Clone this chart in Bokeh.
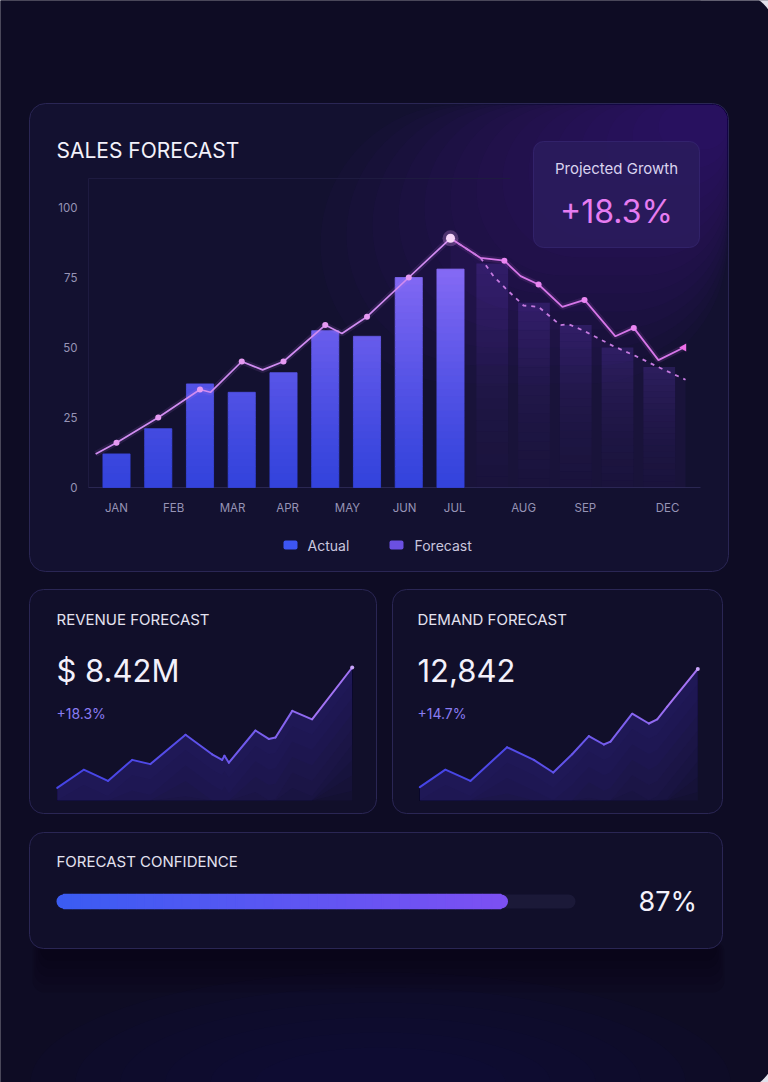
import numpy as np
from bokeh.plotting import figure
from bokeh.models import Range1d, ColumnDataSource
from bokeh.core.properties import value
from bokeh.embed import file_html
from bokeh.resources import INLINE

# ---------------- data ----------------
y_tick_values = [0, 25, 50, 75, 100]
y_tick_labels = ["0", "25", "50", "75", "100"]
x_tick_labels = ["JAN", "FEB", "MAR", "APR", "MAY", "JUN", "JUL", "AUG", "SEP", "DEC"]
x_tick_pos = [0, 1.37, 2.78, 4.1, 5.53, 6.9, 8.1, 9.75, 11.23, 13.2]

actual_idx = [0, 1, 2, 3, 4, 5, 6, 7, 8]
actual_vals = [12, 21, 37, 34, 41, 56, 54, 75, 78]

trend_x = [-0.5, 0, 1, 2, 2.25, 3, 3.5, 4, 5, 5.4, 6, 7, 8]
trend_vals = [12, 16, 25, 35, 34, 45, 42, 45, 58, 55, 61, 75, 89]

forecast_x = [8, 8.72, 9.29, 9.68, 10.11, 10.68, 11.21, 11.95, 12.39, 12.98, 13.59]
forecast_vals = [89, 82, 81, 75.5, 72.5, 64.5, 67, 54, 57, 45.5, 50]

forecast_low_x = [8, 8.72, 9.03, 9.36, 9.75, 10.11, 10.63, 10.83, 11.19, 11.9, 12.43, 12.98, 13.63]
forecast_low_vals = [89, 82, 75.5, 70.5, 65, 64.5, 58, 58.3, 56, 50.5, 47, 43, 38.5]

forecast_bar_idx = [9, 10, 11, 12, 13]
forecast_bar_vals = [80, 66, 58, 50, 43]

rev_x = [0, 9, 17.2, 25.4, 31.6, 43.5, 52.5, 55.9, 56.7, 58.2, 67.2, 71.7, 74, 79.7, 86.4, 100]
rev_vals = [9, 22, 14, 29, 26, 47, 33, 29, 32, 27, 50, 44, 45, 64, 58, 95]

dem_x = [0, 9.2, 18.2, 31.4, 41, 48, 54.8, 60.8, 66.2, 68.6, 76.4, 82.4, 85.4, 89, 100]
dem_vals = [9.5, 22, 14, 38, 29, 20, 33, 46, 40, 42, 62, 55, 58, 67, 94]

revenue_value = "$ 8.42M"
revenue_change = "+18.3%"
demand_value = "12,842"
demand_change = "+14.7%"
projected_growth = "+18.3%"
confidence = 87

# ---------------- style ----------------
W, H = 768, 1082
OUTSIDE = "#e2e0ea"
PAGE = "#0e0c24"
CARD = "#131130"
SMALL_CARD = "#110f2a"
BORDER = "#2a2654"
TEXT = "#f3f1fb"
MUTED = "#9794b6"
FONT = value("Inter")


def lerp_hex(c1, c2, t):
    t = max(0.0, min(1.0, t))
    a = [int(c1[i:i + 2], 16) for i in (1, 3, 5)]
    b = [int(c2[i:i + 2], 16) for i in (1, 3, 5)]
    return "#" + "".join(f"{int(round(a[k] + (b[k] - a[k]) * t)):02x}" for k in range(3))


def x_range_for(v0, p0, v1, p1, size=W):
    s = (p1 - p0) / (v1 - v0)
    start = v0 - p0 / s
    return Range1d(start=start, end=start + size / s)


def y_range_for(v0, p0, v1, p1, size=H):
    q0, q1 = size - p0, size - p1
    s = (q1 - q0) / (v1 - v0)
    start = v0 - q0 / s
    return Range1d(start=start, end=start + size / s)


p = figure(width=W, height=H, x_range=Range1d(0, W), y_range=Range1d(H, 0),
           min_border=0, toolbar_location=None, output_backend="svg",
           x_axis_type=None, y_axis_type=None)
p.outline_line_color = None
p.background_fill_color = PAGE
p.border_fill_color = PAGE
p.grid.visible = False

p.extra_x_ranges = {
    "mx": x_range_for(0, 116, 1, 157.75),
    "rx": x_range_for(0, 56.7, 100, 351.7),
    "dx": x_range_for(0, 419.3, 100, 697.3),
    "cx": x_range_for(0, 56, 100, 575),
}
p.extra_y_ranges = {
    "my": y_range_for(0, 487, 100, 207),
    "sy": y_range_for(0, 800, 100, 660),
}

# ---------------- page & cards ----------------
p.quad(left=[700, 700], right=[800, 800], top=[-10, 1030], bottom=[60, 1100],
       fill_color=OUTSIDE, line_color=None)
p.quad(left=-40, right=775, top=-8, bottom=H + 8, border_radius=40,
       fill_color=PAGE, line_color=None)
for k in range(6):
    p.ellipse(x=380, y=1082, width=700 - k * 90, height=220 - k * 30,
              fill_color="#1a1a6a", fill_alpha=0.05, line_color=None)
for k in range(5):
    p.quad(left=40 - k * 2, right=716 + k * 2, top=940, bottom=960 + k * 8,
           border_radius=12, fill_color="#05040f", fill_alpha=0.12, line_color=None)

# main card
p.quad(left=29, right=728, top=103, bottom=571, border_radius=16,
       fill_color=CARD, line_color=BORDER, line_width=1)
for k in range(14):
    w = 70 + k * 26
    h = 45 + k * 18
    r = int(min(w, h) // 2)
    p.quad(left=728 - w, right=727, top=104, bottom=104 + h,
           border_radius=(r, 15, r, r), fill_color="#5a2fc4", fill_alpha=0.03,
           line_color=None)

# small cards
for (l, r_) in [(29, 376), (392, 722)]:
    p.quad(left=l, right=r_, top=589, bottom=813, border_radius=14,
           fill_color=SMALL_CARD, line_color=BORDER, line_width=1)
p.quad(left=29, right=722, top=832, bottom=948, border_radius=14,
       fill_color=SMALL_CARD, line_color=BORDER, line_width=1)

# ---------------- main chart ----------------
p.segment(x0=[88, 88], y0=[178, 178], x1=[510, 88], y1=[178, 487],
          line_color="#1e1b40", line_width=1)
p.segment(x0=[88], y0=[487], x1=[700], y1=[487], line_color="#2a2752", line_width=1)

p.varea(x=forecast_low_x, y1=[0] * len(forecast_low_x), y2=forecast_low_vals,
        x_range_name="mx", y_range_name="my", fill_color="#4a2a98", fill_alpha=0.10)
fl, fr, fb, ft, fa = [], [], [], [], []
for i, v in zip(forecast_bar_idx, forecast_bar_vals):
    n = 20
    for k in range(n):
        fl.append(i - 0.38)
        fr.append(i + 0.38)
        fb.append(v * k / n)
        ft.append(v * (k + 1) / n)
        fa.append(0.02 + 0.22 * ((k + 0.5) / n) ** 1.5)
p.quad(left=fl, right=fr, bottom=fb, top=ft, x_range_name="mx", y_range_name="my",
       fill_color="#6a3fd0", fill_alpha=fa, line_color=None)

bl, br, bb, bt, bc = [], [], [], [], []
band = 2.5
for i, v in zip(actual_idx, actual_vals):
    lo = 0.0
    while lo < v - 1e-9:
        hi = min(lo + band, v)
        bl.append(i - 0.325)
        br.append(i + 0.325)
        bb.append(lo)
        bt.append(hi)
        bc.append(lerp_hex("#3343dc", "#8a6cf6", (((lo + hi) / 2) / 82) ** 1.2))
        lo = hi
p.quad(left=bl, right=br, bottom=bb, top=bt, x_range_name="mx", y_range_name="my",
       fill_color=bc, line_color=bc, line_width=0.8)

p.line(trend_x, trend_vals, x_range_name="mx", y_range_name="my",
       line_color="#c77ff0", line_width=6, line_alpha=0.12)
p.line(trend_x, trend_vals, x_range_name="mx", y_range_name="my",
       line_color="#d08cf0", line_width=1.7)
p.line(forecast_x, forecast_vals, x_range_name="mx", y_range_name="my",
       line_color="#d86ee6", line_width=6, line_alpha=0.12)
p.line(forecast_x, forecast_vals, x_range_name="mx", y_range_name="my",
       line_color="#d676e8", line_width=1.8)
p.line(forecast_low_x, forecast_low_vals, x_range_name="mx", y_range_name="my",
       line_color="#c67ae0", line_width=1.8, line_dash="4 5")

mk_x = [x for x in trend_x if float(x).is_integer() and 0 <= x < 8]
mk_y = [v for x, v in zip(trend_x, trend_vals) if float(x).is_integer() and 0 <= x < 8]
p.scatter(mk_x, mk_y, x_range_name="mx", y_range_name="my", marker="circle",
          size=6, fill_color="#e59af2", line_color=None)
fm_x = [forecast_x[i] for i in (2, 4, 6, 8)]
fm_y = [forecast_vals[i] for i in (2, 4, 6, 8)]
p.scatter(fm_x, fm_y, x_range_name="mx", y_range_name="my", marker="circle",
          size=6, fill_color="#ea86f2", line_color=None)
p.scatter([forecast_x[-1]], [forecast_vals[-1]], x_range_name="mx", y_range_name="my",
          marker="triangle", size=8, angle=1.57, fill_color="#ee6ee8", line_color=None)
p.scatter([trend_x[-1]], [trend_vals[-1]], x_range_name="mx", y_range_name="my",
          marker="circle", size=16, fill_color="#e8a0f4", fill_alpha=0.25, line_color=None)
p.scatter([trend_x[-1]], [trend_vals[-1]], x_range_name="mx", y_range_name="my",
          marker="circle", size=9, fill_color="#f6d6f8", line_color=None)

p.text(x=[77] * len(y_tick_values), y=y_tick_values, text=y_tick_labels,
       y_range_name="my", text_font=FONT, text_font_size="11.5px", text_color=MUTED,
       text_align="right", text_baseline="middle")
p.text(x=x_tick_pos, y=[507] * len(x_tick_pos), text=x_tick_labels,
       x_range_name="mx", text_font=FONT, text_font_size="11.5px", text_color=MUTED,
       text_align="center", text_baseline="middle")

p.text(x=[56], y=[150], text=["SALES FORECAST"], text_font=FONT, text_font_size="21px",
       text_color=TEXT, text_align="left", text_baseline="middle")
p.quad(left=533, right=699, top=141, bottom=247, border_radius=10,
       fill_color="#2a1c5c", fill_alpha=0.9, line_color="#3b2c78", line_alpha=0.6)
p.text(x=[616], y=[168], text=["Projected Growth"], text_font=FONT, text_font_size="15px",
       text_color="#d9d3ef", text_align="center", text_baseline="middle")
p.text(x=[616], y=[211], text=[projected_growth], text_font=FONT, text_font_size="32px",
       text_color="#e67cf1", text_align="center", text_baseline="middle")

p.quad(left=[283, 389], right=[297, 403], top=[540, 540], bottom=[549, 549], border_radius=2,
       fill_color=["#3d56f2", "#6b50e2"], line_color=None)
p.text(x=[307, 414], y=[544.5, 544.5], text=["Actual", "Forecast"], text_font=FONT,
       text_font_size="14px", text_color="#c9c6de", text_align="left", text_baseline="middle")


def sparkline(xs, vs, xr):
    xs = np.asarray(xs, float)
    vs = np.asarray(vs, float)
    for k in range(1, 9):
        y2 = np.maximum(0, vs - k * 11)
        p.varea(x=xs, y1=vs, y2=y2, x_range_name=xr, y_range_name="sy",
                fill_color="#5636d0", fill_alpha=0.04)
    p.varea(x=xs, y1=vs, y2=np.zeros_like(vs), x_range_name=xr, y_range_name="sy",
            fill_color="#2a1f6a", fill_alpha=0.15)
    cols = [lerp_hex("#4645e6", "#b07af6", ((a + b) / 2 / 100) ** 2) for a, b in zip(xs[:-1], xs[1:])]
    src = ColumnDataSource(dict(x0=xs[:-1], y0=vs[:-1], x1=xs[1:], y1=vs[1:], c=cols))
    p.segment("x0", "y0", "x1", "y1", source=src, x_range_name=xr, y_range_name="sy",
              line_color="c", line_width=2, line_cap="round")
    p.scatter([xs[-1]], [vs[-1]], x_range_name=xr, y_range_name="sy", size=4,
              fill_color="#c9a4fa", line_color=None)


sparkline(rev_x, rev_vals, "rx")
sparkline(dem_x, dem_vals, "dx")

for x0, title, big, chg in [(56, "REVENUE FORECAST", revenue_value, revenue_change),
                            (417, "DEMAND FORECAST", demand_value, demand_change)]:
    p.text(x=[x0], y=[619], text=[title], text_font=FONT, text_font_size="15px",
           text_color="#e4e2f0", text_align="left", text_baseline="middle")
    p.text(x=[x0], y=[670], text=[big], text_font=FONT, text_font_size="31px",
           text_color=TEXT, text_align="left", text_baseline="middle")
    p.text(x=[x0], y=[713], text=[chg], text_font=FONT, text_font_size="14px",
           text_color="#8a7cf2", text_align="left", text_baseline="middle")

p.text(x=[56], y=[861], text=["FORECAST CONFIDENCE"], text_font=FONT, text_font_size="15px",
       text_color="#e4e2f0", text_align="left", text_baseline="middle")
p.quad(left=0, right=100, top=894, bottom=908, x_range_name="cx", border_radius=7,
       fill_color="#1b1938", line_color=None)
cap = 7 / 5.19
c_start, c_end = "#3b5cf2", "#7c50f2"
p.quad(left=0, right=2 * cap, top=894, bottom=908, x_range_name="cx", border_radius=7,
       fill_color=c_start, line_color=None)
p.quad(left=confidence - 2 * cap, right=confidence, top=894, bottom=908, x_range_name="cx",
       border_radius=7, fill_color=c_end, line_color=None)
n = 48
edges = np.linspace(cap, confidence - cap, n + 1)
cc = [lerp_hex(c_start, c_end, (k + 0.5) / n) for k in range(n)]
p.quad(left=edges[:-1], right=edges[1:], top=894, bottom=908, x_range_name="cx",
       fill_color=cc, line_color=cc, line_width=1.6)
p.text(x=[638], y=[901], text=[f"{confidence}%"], text_font=FONT, text_font_size="27px",
       text_color=TEXT, text_align="left", text_baseline="middle")

html = file_html(p, INLINE)
html = html.replace("<body>", '<body style="margin:0;background:#0e0c24;">', 1)
open("out.html", "w").write(html)
